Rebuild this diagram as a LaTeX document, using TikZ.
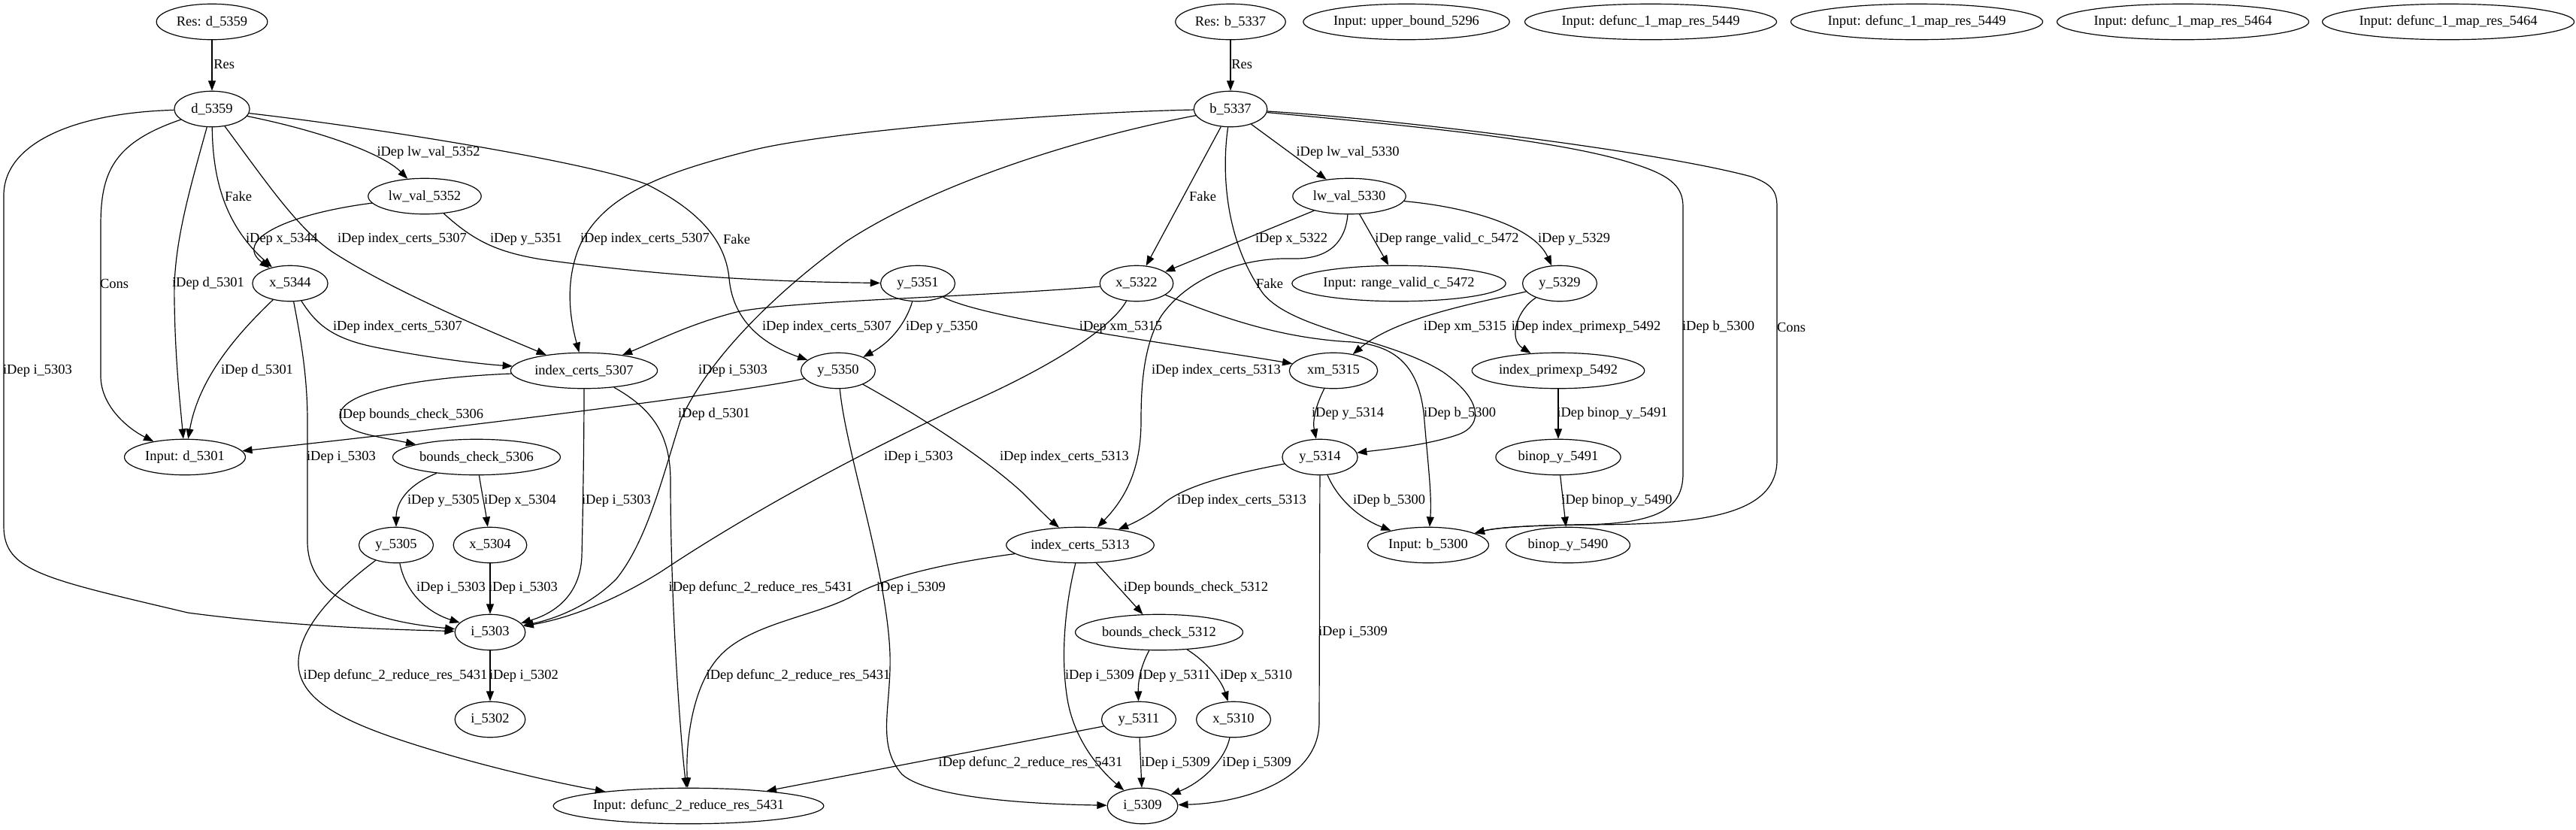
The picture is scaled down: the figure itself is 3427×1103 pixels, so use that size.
\documentclass[tikz,border=0pt]{standalone}
\usepackage{fontspec}
\setmainfont{Liberation Serif}
\usetikzlibrary{arrows.meta,shapes.geometric}
\newcommand{\gvf}{\fontsize{14pt}{16pt}\selectfont}
\begin{document}
\begin{tikzpicture}[x=0.758pt,y=-0.758pt,
  nd/.style={draw, ellipse, line width=0.9pt, inner sep=0pt, minimum height=36pt, font=\gvf},
  lb/.style={inner sep=0pt, font=\gvf},
  e/.style={line width=0.9pt, -{Triangle[length=10pt,width=7.5pt]}}]
\fill[white] (0,0) rectangle (3427,1103);
\useasboundingbox (0,0) rectangle (3427,1103);
% nodes
\node[nd, minimum width=112pt] (resd) at (282,29) {Res: d\_5359};
\node[nd, minimum width=76pt] (d5359) at (282,145) {d\_5359};
\node[nd, minimum width=114pt] (lw5352) at (565,261) {lw\_val\_5352};
\node[nd, minimum width=76pt] (x5344) at (386,377) {x\_5344};
\node[nd, minimum width=148pt] (ic5307) at (777,493) {index\_certs\_5307};
\node[nd, minimum width=122pt] (ind5301) at (246,608) {Input: d\_5301};
\node[nd, minimum width=169pt] (bc5306) at (634,608) {bounds\_check\_5306};
\node[nd, minimum width=75pt] (y5305) at (527,725) {y\_5305};
\node[nd, minimum width=74pt] (x5304) at (652,725) {x\_5304};
\node[nd, minimum width=71pt] (i5303) at (652,841) {i\_5303};
\node[nd, minimum width=71pt] (i5302) at (652,957) {i\_5302};
\node[nd, minimum width=265pt] (indef) at (916,1072) {Input: defunc\_2\_reduce\_res\_5431};
\node[nd, minimum width=75pt] (y5351) at (1221,377) {y\_5351};
\node[nd, minimum width=75pt] (y5350) at (1115,493) {y\_5350};
\node[nd, minimum width=111pt] (resb) at (1637,29) {Res: b\_5337};
\node[nd, minimum width=208pt] (inub) at (1871,29) {Input: upper\_bound\_5296};
\node[nd, minimum width=74pt] (b5337) at (1637,145) {b\_5337};
\node[nd, minimum width=114pt] (lw5330) at (1795,261) {lw\_val\_5330};
\node[nd, minimum width=74pt] (x5322) at (1512,377) {x\_5322};
\node[nd, minimum width=215pt] (inrv) at (1861,377) {Input: range\_valid\_c\_5472};
\node[nd, minimum width=75pt] (y5329) at (2075,377) {y\_5329};
\node[nd, minimum width=89pt] (xm5315) at (1774,493) {xm\_5315};
\node[nd, minimum width=174pt] (ipe5492) at (2073,493) {index\_primexp\_5492};
\node[nd, minimum width=76pt] (y5314) at (1756,608) {y\_5314};
\node[nd, minimum width=126pt] (by5491) at (2073,608) {binop\_y\_5491};
\node[nd, minimum width=149pt] (ic5313) at (1437,725) {index\_certs\_5313};
\node[nd, minimum width=122pt] (inb5300) at (1900,725) {Input: b\_5300};
\node[nd, minimum width=125pt] (by5490) at (2086,725) {binop\_y\_5490};
\node[nd, minimum width=169pt] (bc5312) at (1542,841) {bounds\_check\_5312};
\node[nd, minimum width=75pt] (y5311) at (1515,957) {y\_5311};
\node[nd, minimum width=75pt] (x5310) at (1641,957) {x\_5310};
\node[nd, minimum width=71pt] (i5309) at (1520,1072) {i\_5309};
\node[nd, minimum width=249pt] (m1) at (2196,29) {Input: defunc\_1\_map\_res\_5449};
\node[nd, minimum width=249pt] (m2) at (2550,29) {Input: defunc\_1\_map\_res\_5449};
\node[nd, minimum width=250pt] (m3) at (2904,29) {Input: defunc\_1\_map\_res\_5464};
\node[nd, minimum width=250pt] (m4) at (3257,29) {Input: defunc\_1\_map\_res\_5464};
% edges
\draw[e] (resd) -- (d5359);
\draw[e] (d5359) .. controls (430,175) and (510,205) .. (lw5352);
\draw[e] (d5359) .. controls (283,240) and (300,300) .. (x5344);
\draw[e] (lw5352) .. controls (380,285) and (310,320) .. (x5344);
\draw[e] (d5359) .. controls (360,250) and (400,310) .. (450,340) .. controls (530,390) and (650,440) .. (ic5307);
\draw[e] (lw5352) .. controls (630,320) and (660,335) .. (720,345) .. controls (900,370) and (1050,375) .. (y5351);
\draw[e] (d5359) .. controls (150,190) and (134,230) .. (134,300) -- (134,500) .. controls (134,540) and (170,570) .. (ind5301);
\draw[e] (d5359) .. controls (250,260) and (230,330) .. (232,400) .. controls (233,480) and (240,540) .. (ind5301);
\draw[e] (d5359) .. controls (100,150) and (5,190) .. (5,260) -- (5,700) .. controls (5,760) and (60,770) .. (250,815) .. controls (400,835) and (550,838) .. (i5303);
\draw[e] (x5344) .. controls (320,440) and (265,500) .. (ind5301);
\draw[e] (x5344) .. controls (420,430) and (440,450) .. (500,462) .. controls (580,478) and (650,485) .. (ic5307);
\draw[e] (x5344) .. controls (400,450) and (409,500) .. (409,560) -- (409,720) .. controls (409,790) and (480,825) .. (i5303);
\draw[e] (ic5307) .. controls (560,502) and (455,520) .. (452,552) .. controls (452,575) and (500,580) .. (bc5306);
\draw[e] (bc5306) .. controls (530,650) and (527,680) .. (y5305);
\draw[e] (bc5306) .. controls (640,650) and (646,680) .. (x5304);
\draw[e] (y5305) .. controls (540,790) and (570,815) .. (i5303);
\draw[e] (x5304) -- (i5303);
\draw[e] (y5305) .. controls (440,790) and (395,840) .. (397,885) .. controls (400,940) and (480,970) .. (600,1005) .. controls (680,1028) and (760,1045) .. (indef);
\draw[e] (i5303) -- (i5302);
\draw[e] (y5350) .. controls (1000,520) and (600,570) .. (ind5301);
\draw[e] (ic5307) .. controls (777,600) and (775,700) .. (774,740) .. controls (772,790) and (740,815) .. (i5303);
\draw[e] (x5322) .. controls (1470,450) and (1350,510) .. (1280,540) .. controls (1150,600) and (1000,680) .. (880,760) .. controls (800,810) and (740,825) .. (i5303);
\draw[e] (y5350) .. controls (1200,540) and (1300,600) .. (1360,655) .. controls (1380,675) and (1395,690) .. (ic5313);
\draw[e] (ic5307) .. controls (870,545) and (892,580) .. (892,640) .. controls (892,800) and (905,980) .. (indef);
\draw[e] (y5350) .. controls (1125,600) and (1180,760) .. (1184,870) .. controls (1186,940) and (1165,990) .. (1200,1030) .. controls (1240,1065) and (1400,1070) .. (i5309);
\draw[e] (ic5313) .. controls (1250,750) and (1170,770) .. (1130,795) .. controls (1080,820) and (1000,830) .. (960,870) .. controls (920,910) and (912,990) .. (indef);
\draw[e] (y5311) -- (indef);
\draw[e] (b5337) .. controls (1400,150) and (1100,175) .. (1000,200) .. controls (880,230) and (800,260) .. (770,330) .. controls (750,380) and (760,430) .. (ic5307);
\draw[e] (d5359) .. controls (500,170) and (780,215) .. (860,245) .. controls (930,280) and (965,320) .. (970,370) .. controls (975,430) and (1020,460) .. (y5350);
\draw[e] (x5322) .. controls (1300,395) and (1050,400) .. (980,415) .. controls (920,430) and (870,455) .. (ic5307);
\draw[e] (y5351) .. controls (1205,430) and (1185,455) .. (y5350);
\draw[e] (b5337) .. controls (1450,180) and (1250,240) .. (1126,321) .. controls (1030,390) and (940,480) .. (905,560) .. controls (880,640) and (860,720) .. (820,770) .. controls (780,810) and (730,825) .. (i5303);
\draw[e] (resb) -- (b5337);
\draw[e] (b5337) -- (lw5330);
\draw[e] (b5337) -- (x5322);
\draw[e] (lw5330) -- (x5322);
\draw[e] (lw5330) -- (inrv);
\draw[e] (lw5330) .. controls (1950,275) and (2040,300) .. (y5329);
\draw[e] (b5337) .. controls (1625,230) and (1630,320) .. (1680,390) .. controls (1720,440) and (1850,450) .. (1920,495) .. controls (1970,530) and (1975,565) .. (1940,578) .. controls (1900,592) and (1840,598) .. (y5314);
\draw[e] (y5351) .. controls (1310,425) and (1580,460) .. (xm5315);
\draw[e] (y5329) .. controls (1980,400) and (1860,420) .. (xm5315);
\draw[e] (y5329) .. controls (2020,410) and (2005,450) .. (ipe5492);
\draw[e] (lw5330) .. controls (1790,320) and (1770,345) .. (1720,344) .. controls (1650,342) and (1580,370) .. (1545,420) .. controls (1520,460) and (1518,520) .. (1518,560) .. controls (1518,620) and (1500,660) .. (ic5313);
\draw[e] (xm5315) .. controls (1750,540) and (1746,560) .. (y5314);
\draw[e] (x5322) .. controls (1620,420) and (1700,450) .. (1800,455) .. controls (1860,460) and (1890,490) .. (1895,560) .. controls (1900,620) and (1905,660) .. (inb5300);
\draw[e] (ipe5492) -- (by5491);
\draw[e] (b5337) .. controls (1850,165) and (2080,185) .. (2180,220) .. controls (2225,235) and (2239,250) .. (2239,275) -- (2239,630) .. controls (2239,680) and (2200,697) .. (2100,698) .. controls (2030,699) and (1990,702) .. (inb5300);
\draw[e] (b5337) .. controls (1850,158) and (2200,200) .. (2330,235) .. controls (2358,245) and (2364,255) .. (2364,275) -- (2364,612) .. controls (2364,690) and (2250,698) .. (2100,698) .. controls (2030,699) and (1990,702) .. (inb5300);
\draw[e] (y5314) .. controls (1640,630) and (1580,645) .. (1550,668) .. controls (1530,685) and (1510,695) .. (ic5313);
\draw[e] (y5314) .. controls (1780,665) and (1810,690) .. (inb5300);
\draw[e] (by5491) -- (by5490);
\draw[e] (ic5313) -- (bc5312);
\draw[e] (y5314) -- (1755,960) .. controls (1755,1040) and (1650,1068) .. (i5309);
\draw[e] (ic5313) .. controls (1418,800) and (1410,870) .. (1420,930) .. controls (1430,990) and (1470,1030) .. (i5309);
\draw[e] (bc5312) .. controls (1518,885) and (1514,905) .. (y5311);
\draw[e] (bc5312) .. controls (1605,880) and (1625,905) .. (x5310);
\draw[e] (y5311) -- (i5309);
\draw[e] (x5310) .. controls (1630,1010) and (1600,1040) .. (i5309);
% labels
\node[lb, anchor=west] (l1) at (284,86) {Res};
\node[lb] (l2) at (570,203) {iDep lw\_val\_5352};
\node[lb] (l3) at (317,261) {Fake};
\node[lb] (l4) at (375,318) {iDep x\_5344};
\node[lb] (l5) at (535,318) {iDep index\_certs\_5307};
\node[lb] (l6) at (700,318) {iDep y\_5351};
\node[lb] (l7) at (152,377) {Cons};
\node[lb] (l8) at (277,377) {iDep d\_5301};
\node[lb] (l9) at (50,493) {iDep i\_5303};
\node[lb] (l10) at (342,493) {iDep d\_5301};
\node[lb] (l11) at (529,435) {iDep index\_certs\_5307};
\node[lb] (l12) at (454,608) {iDep i\_5303};
\node[lb] (l13) at (547,552) {iDep bounds\_check\_5306};
\node[lb] (l14) at (590,666) {iDep y\_5305};
\node[lb] (l15) at (692,666) {iDep x\_5304};
\node[lb] (l16) at (600,782) {iDep i\_5303};
\node[lb] (l17) at (696,782) {iDep i\_5303};
\node[lb] (l18) at (526,899) {iDep defunc\_2\_reduce\_res\_5431};
\node[lb] (l19) at (697,899) {iDep i\_5302};
\node[lb] (l20) at (950,551) {iDep d\_5301};
\node[lb] (l21) at (820,666) {iDep i\_5303};
\node[lb] (l22) at (1222,608) {iDep i\_5303};
\node[lb] (l23) at (1416,608) {iDep index\_certs\_5313};
\node[lb] (l24) at (1012,782) {iDep defunc\_2\_reduce\_res\_5431};
\node[lb] (l25) at (1212,782) {iDep i\_5309};
\node[lb] (l26) at (1062,899) {iDep defunc\_2\_reduce\_res\_5431};
\node[lb] (l27) at (1371,1015) {iDep defunc\_2\_reduce\_res\_5431};
\node[lb] (l28) at (858,318) {iDep index\_certs\_5307};
\node[lb] (l29) at (980,318) {Fake};
\node[lb] (l30) at (1100,435) {iDep index\_certs\_5307};
\node[lb] (l31) at (1253,435) {iDep y\_5350};
\node[lb] (l32) at (975,493) {iDep i\_5303};
\node[lb, anchor=west] (l33) at (1638,86) {Res};
\node[lb] (l34) at (1793,203) {iDep lw\_val\_5330};
\node[lb] (l35) at (1600,261) {Fake};
\node[lb] (l36) at (1718,318) {iDep x\_5322};
\node[lb] (l37) at (1925,318) {iDep range\_valid\_c\_5472};
\node[lb] (l38) at (2094,318) {iDep y\_5329};
\node[lb] (l39) at (1689,377) {Fake};
\node[lb] (l40) at (1491,435) {iDep xm\_5315};
\node[lb] (l41) at (1949,435) {iDep xm\_5315};
\node[lb] (l42) at (2110,435) {iDep index\_primexp\_5492};
\node[lb] (l43) at (1618,493) {iDep index\_certs\_5313};
\node[lb] (l44) at (1793,550) {iDep y\_5314};
\node[lb] (l45) at (1942,550) {iDep b\_5300};
\node[lb] (l46) at (2145,550) {iDep binop\_y\_5491};
\node[lb] (l47) at (2286,435) {iDep b\_5300};
\node[lb] (l48) at (2383,435) {Cons};
\node[lb] (l49) at (1652,666) {iDep index\_certs\_5313};
\node[lb] (l50) at (1848,666) {iDep b\_5300};
\node[lb] (l51) at (2151,666) {iDep binop\_y\_5490};
\node[lb] (l52) at (1591,782) {iDep bounds\_check\_5312};
\node[lb] (l53) at (1800,841) {iDep i\_5309};
\node[lb] (l54) at (1463,899) {iDep i\_5309};
\node[lb] (l55) at (1563,899) {iDep y\_5311};
\node[lb] (l56) at (1671,899) {iDep x\_5310};
\node[lb] (l57) at (1564,1015) {iDep i\_5309};
\node[lb] (l58) at (1672,1015) {iDep i\_5309};
\end{tikzpicture}
\end{document}
